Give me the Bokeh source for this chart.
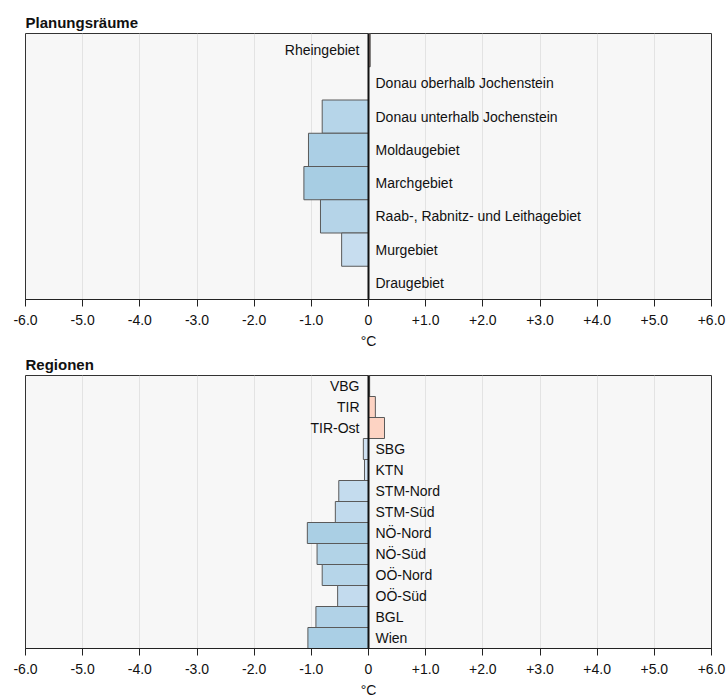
from bokeh.plotting import figure
from bokeh.models import ColumnDataSource, FactorRange, FixedTicker, Span, Title
from bokeh.layouts import column
from bokeh.embed import file_html
from bokeh.resources import INLINE
from bokeh.core.properties import value

# ---- data ----
plan_names = ["Rheingebiet", "Donau oberhalb Jochenstein", "Donau unterhalb Jochenstein",
              "Moldaugebiet", "Marchgebiet", "Raab-, Rabnitz- und Leithagebiet",
              "Murgebiet", "Draugebiet"]
plan_values = [0.03, 0.0, -0.81, -1.05, -1.13, -0.84, -0.47, 0.0]

reg_names = ["VBG", "TIR", "TIR-Ost", "SBG", "KTN", "STM-Nord", "STM-Süd",
             "NÖ-Nord", "NÖ-Süd", "OÖ-Nord", "OÖ-Süd", "BGL", "Wien"]
reg_values = [0.02, 0.12, 0.28, -0.09, -0.07, -0.52, -0.58,
              -1.07, -0.90, -0.81, -0.54, -0.92, -1.06]

tick_values = [-6, -5, -4, -3, -2, -1, 0, 1, 2, 3, 4, 5, 6]
tick_labels = ["-6.0", "-5.0", "-4.0", "-3.0", "-2.0", "-1.0", "0",
               "+1.0", "+2.0", "+3.0", "+4.0", "+5.0", "+6.0"]

FONT = "Liberation Sans"


def lerp_color(c0, c1, t):
    t = max(0.0, min(1.0, t))
    a = [int(c0[i:i + 2], 16) for i in (1, 3, 5)]
    b = [int(c1[i:i + 2], 16) for i in (1, 3, 5)]
    return "#%02x%02x%02x" % tuple(round(a[k] + (b[k] - a[k]) * t) for k in range(3))


def bar_color(v):
    if v >= 0:
        if v < 0.05:
            return "#b89a94"
        return "#fdd3c3"
    return lerp_color("#cfe1f2", "#a6cde3", (abs(v) - 0.3) / 0.85)


def make_panel(title, names, vals, height, border_top, border_bottom):
    p = figure(width=728, height=height, output_backend="svg", toolbar_location=None,
               y_range=FactorRange(*list(reversed(names))), x_range=(-6, 6),
               min_border_left=25, min_border_right=17,
               min_border_top=border_top, min_border_bottom=border_bottom)
    p.title = Title(text=title, text_font=FONT, text_font_size="15px",
                    text_font_style="bold", text_color="#111111", offset=0,
                    standoff=5)
    p.background_fill_color = "#f7f7f7"
    p.outline_line_color = "#333333"
    p.outline_line_width = 1
    p.ygrid.visible = False
    p.yaxis.visible = False
    p.xgrid.ticker = FixedTicker(ticks=tick_values)
    p.xgrid.grid_line_color = "#e3e3e3"
    p.xgrid.grid_line_width = 1

    ax = p.xaxis[0]
    ax.ticker = FixedTicker(ticks=tick_values)
    ax.major_label_overrides = {t: l for t, l in zip(tick_values, tick_labels)}
    ax.major_label_text_font = FONT
    ax.major_label_text_font_size = "14px"
    ax.major_label_text_color = "#111111"
    ax.major_tick_in = 0
    ax.major_tick_out = 7
    ax.minor_tick_out = 0
    ax.minor_tick_in = 0
    ax.axis_line_color = "#222222"
    ax.major_tick_line_color = "#222222"
    ax.major_label_standoff = 8
    ax.axis_label = "°C"
    ax.axis_label_text_font = FONT
    ax.axis_label_text_font_size = "14px"
    ax.axis_label_text_font_style = "normal"
    ax.axis_label_text_color = "#111111"
    ax.axis_label_standoff = 5

    colors = [bar_color(v) for v in vals]
    lab_x_off = [-9 if v > 0 else 7 for v in vals]
    lab_align = ["right" if v > 0 else "left" for v in vals]
    src = ColumnDataSource(dict(y=names, right=vals, color=colors,
                                xo=lab_x_off, al=lab_align, zero=[0] * len(names)))
    p.hbar(y="y", left="zero", right="right", height=1.0, source=src,
           fill_color="color", line_color="#5a5a5a", line_width=1)
    p.add_layout(Span(location=0, dimension="height", line_color="#111111", line_width=2))
    p.text(x="zero", y="y", text="y", source=src, x_offset="xo", text_align="al",
           text_baseline="middle", text_font=value(FONT), text_font_size="14px",
           text_color="#111111")
    return p


p1 = make_panel("Planungsräume", plan_names, plan_values, 351, 33, 51)
p2 = make_panel("Regionen", reg_names, reg_values, 349, 15, 52)

layout = column(p1, p2, spacing=0)
open("out.html", "w").write(file_html(layout, INLINE))
